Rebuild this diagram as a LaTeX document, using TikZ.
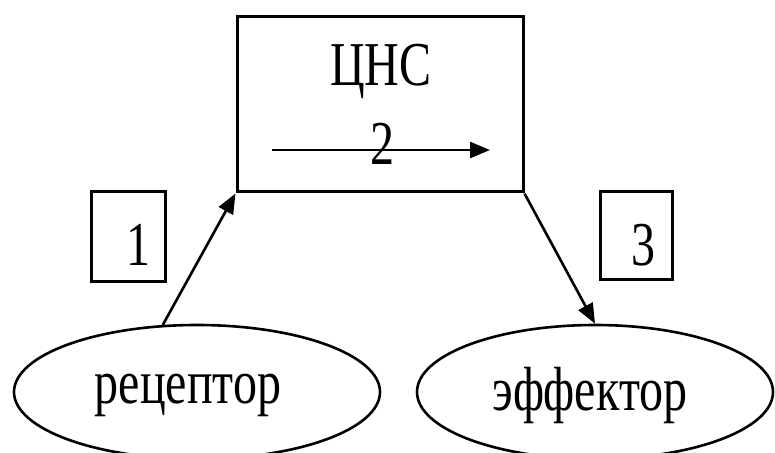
\documentclass[tikz,border=0pt]{standalone}
\usepackage{fontspec}
\setmainfont{Liberation Serif}
\usetikzlibrary{arrows.meta,shapes.geometric}
\newcommand{\tallfont}[1]{\scalebox{1}[1.3]{#1}}
\begin{document}
\begin{tikzpicture}[x=0.5pt,y=-0.5pt,
  box/.style={draw,line width=1.5pt,rectangle,inner sep=0pt},
  organ/.style={draw,line width=1.3pt,ellipse,inner sep=0pt,minimum width=178pt,minimum height=67pt},
  lbl/.style={font=\fontsize{24}{28}\selectfont,inner sep=0pt},
  path/.style={line width=1.3pt,-{Triangle[length=10pt,width=8pt]}}]
\useasboundingbox (0,0) rectangle (775,453);
\node[box,minimum width=143pt,minimum height=87.5pt] (cns) at (380,104.5) {};
\node[lbl] (cnstext) at (381,71) {\tallfont{ЦНС}};
\coordinate (inA) at (272,150);
\coordinate (inB) at (490,150);
\draw[path] (inA) -- (inB);
\node[lbl] (two) at (382,144) {\tallfont{2}};
\node[box,minimum width=37pt,minimum height=45pt] (box1) at (128.5,237) {};
\node[lbl] (one) at (138,245) {\tallfont{1}};
\node[box,minimum width=36pt,minimum height=44pt] (box3) at (636,236) {};
\node[lbl] (three) at (643,245) {\tallfont{3}};
\node[organ,minimum width=183pt] (rec) at (197,392) {};
\node[lbl] (rectext) at (188,395) {\tallfont{рецептор}};
\node[organ] (eff) at (595,392) {};
\node[lbl] (efftext) at (590,395) {\tallfont{эффектор}};
\draw[path] (rec.117) -- (cns.south west);
\draw[path] (cns.south east) -- (eff.north);
\end{tikzpicture}
\end{document}
